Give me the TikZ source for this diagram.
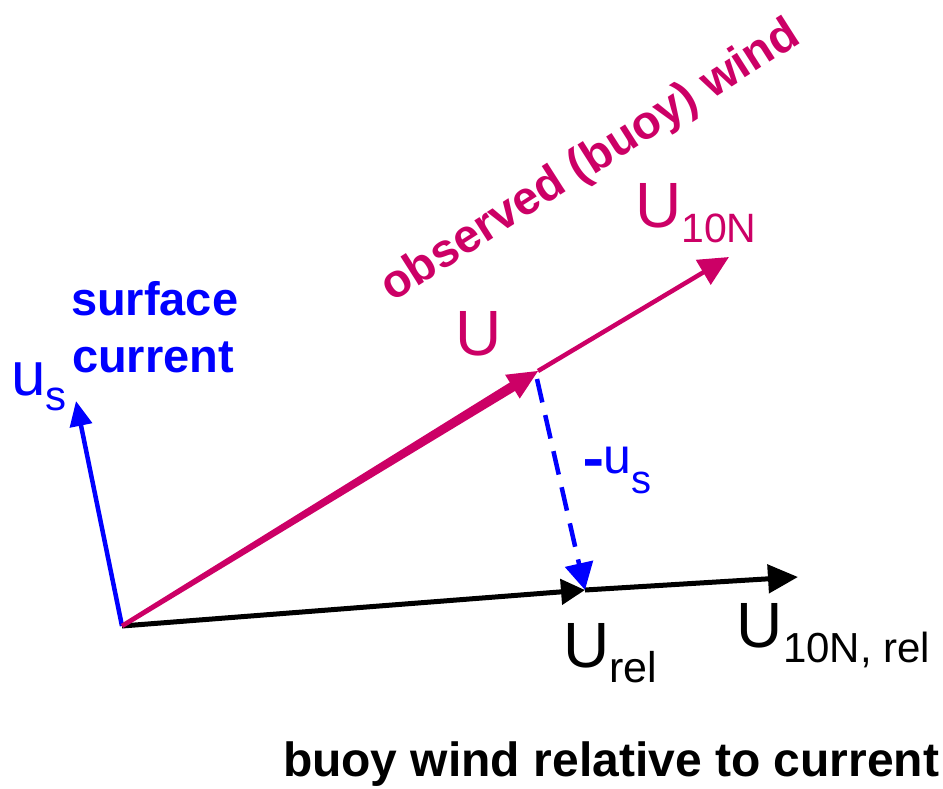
\documentclass[tikz,border=0pt]{standalone}
\usepackage{fontspec}
\setmainfont{Liberation Sans}
\usetikzlibrary{arrows.meta,calc}
\definecolor{mag}{RGB}{204,0,102}
\definecolor{bl}{RGB}{0,0,255}
\newcommand{\fsz}[1]{\fontsize{#1}{#1}\selectfont}
\begin{document}
\begin{tikzpicture}[x=1pt,y=-1pt,
  lbl/.style={inner sep=0pt,outer sep=0pt,anchor=base west},
  bluevec/.style={draw=bl,line width=4.5pt,line cap=butt},
  blackvec/.style={draw=black,line width=5pt},
  magvec/.style={draw=mag,line width=4.5pt}]
\useasboundingbox (0,0) rectangle (943,788);
% points
\coordinate (O) at (122,626);
\coordinate (Us) at (76,401);
\coordinate (T) at (538,371);
\coordinate (W) at (729,257);
\coordinate (R) at (585,590);
\coordinate (E) at (798,577);
\coordinate (D) at (537,379);
% surface current vector
\draw[bluevec,-{Triangle[length=25pt,width=22pt]}] (O) -- (Us);
% relative wind
\draw[blackvec,-{Triangle[length=24pt,width=25pt]}] (O) -- (R);
\draw[blackvec,-{Triangle[length=30pt,width=28pt]}] (R) -- (E);
% observed wind (tapered)
\coordinate (B) at ($(T)!30pt!(O)$);
\coordinate (B2) at ($(T)!26pt!(O)$);
\fill[mag] ($(O)!2.3pt!90:(T)$) -- ($(B2)!5pt!-90:(O)$) -- ($(B2)!5pt!90:(O)$) -- ($(O)!2.3pt!-90:(T)$) -- cycle;
\fill[mag] (T) -- ($(B)!14pt!90:(T)$) -- ($(B)!14pt!-90:(T)$) -- cycle;
\draw[magvec,-{Triangle[length=30pt,width=28pt]}] (T) -- (W);
% -u_s dashed
\draw[bluevec,dash pattern=on 24pt off 13pt,-{Triangle[length=27pt,width=28pt]}] (D) -- (R);
% labels
\node[lbl,text=bl,font=\bfseries\fsz{47}] (surf) at (71,315) {surface};
\node[lbl,text=bl,font=\bfseries\fsz{47}] (curr) at (72,372) {current};
\node[lbl,text=bl,font=\fsz{62}] (us) at (11,395) {u\raisebox{-15pt}{\fsz{42}s}};
\node[lbl,text=mag,font=\fsz{64}] (U) at (455,355) {U};
\node[lbl,text=mag,font=\fsz{64}] (U10) at (635,227) {U\raisebox{-15pt}{\fsz{41}10N}};
\node[lbl,text=mag,font=\bfseries\fsz{47},rotate=32.5,anchor=center] (obs) at (591,162) {observed (buoy) wind};
\node[lbl,text=bl,font=\fsz{50}] (mus) at (582,473) {\raisebox{-12pt}{\scalebox{1.35}[1.7]{-}}\kern-1pt u\raisebox{-20pt}{\fsz{40}s}};
\node[lbl,font=\fsz{64}] (Urel) at (563,667) {U\raisebox{-15pt}{\fsz{43}rel}};
\node[lbl,font=\fsz{64}] (U10rel) at (736,647) {U\kern1pt\raisebox{-15pt}{\fsz{42}10N, rel}};
\node[lbl,font=\bfseries\fsz{48}] (cap) at (283,776) {buoy wind relative to current};
\end{tikzpicture}
\end{document}
